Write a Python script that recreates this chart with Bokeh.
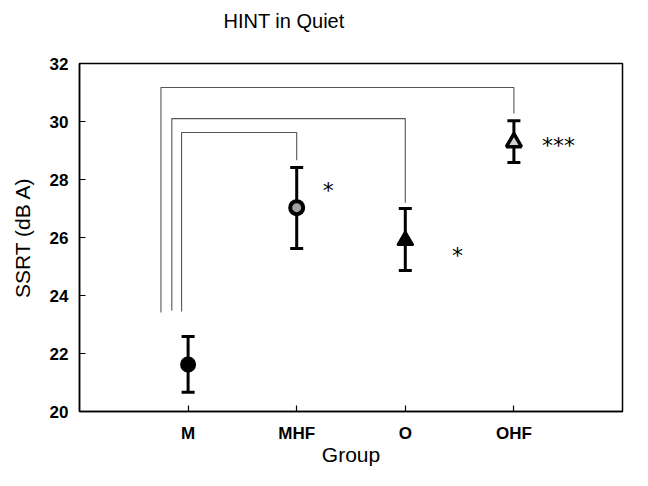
import numpy as np
from bokeh.plotting import figure
from bokeh.models import FixedTicker, Range1d, ColumnDataSource, Title
from bokeh.core.properties import value
from bokeh.embed import file_html
from bokeh.resources import INLINE

# ---- data ----
groups = ["M", "MHF", "O", "OHF"]
means = [21.62, 27.03, 25.90, 29.28]
upper = [22.59, 28.41, 27.00, 30.03]
lower = [20.66, 25.62, 24.86, 28.59]
marker_types = ["circle", "circle", "triangle", "triangle"]
marker_fills = ["black", "#a0a0a0", "black", "#d0d0d0"]
marker_sizes = [14, 13, 16, 15]
marker_lines = [2, 4, 2, 3.5]

# significance vs M
sig_targets = ["MHF", "O", "OHF"]
sig_text = ["*", "*", "***"]
sig_text_x = [2.29, 3.48, 4.41]
sig_text_y = [27.70, 25.45, 29.24]
bracket_left_x = [0.94, 0.85, 0.75]
bracket_top = [29.62, 30.10, 31.17]
bracket_bottom = [23.45, 23.48, 23.41]
bracket_end = [28.66, 27.20, 30.28]

y_ticks = [20, 22, 24, 26, 28, 30, 32]

FONT = "Liberation Sans"

x = np.arange(1, len(groups) + 1)
xpos = dict(zip(groups, x))

p = figure(width=648, height=486, output_backend="svg", toolbar_location=None,
           x_range=Range1d(0, 5), y_range=Range1d(20, 32),
           min_border_left=79, min_border_right=26, min_border_top=63, min_border_bottom=75)

p.background_fill_color = "white"
p.border_fill_color = "white"
p.grid.visible = False
p.outline_line_color = "black"
p.outline_line_width = 1.5

# spacer panel between frame and title
p.add_layout(Title(text=" ", text_font_size="1px", standoff=29), "above")

# title
p.title.text = "HINT in Quiet"
p.title.text_font = FONT
p.title.text_font_size = "20px"
p.title.text_font_style = "normal"
p.title.text_color = "black"
p.title.align = "left"
p.title.offset = 144
p.title.standoff = 0

# axes
p.xaxis.ticker = FixedTicker(ticks=list(x))
p.xaxis.major_label_overrides = {int(v): g for v, g in zip(x, groups)}
p.yaxis.ticker = FixedTicker(ticks=y_ticks)
for ax in (p.xaxis[0], p.yaxis[0]):
    ax.axis_line_color = "black"
    ax.axis_line_width = 1.5
    ax.major_tick_in = 6
    ax.major_tick_out = 0
    ax.minor_tick_in = 0
    ax.minor_tick_out = 0
    ax.major_tick_line_color = "black"
    ax.major_tick_line_width = 1.2
    ax.major_label_text_font = FONT
    ax.major_label_text_font_size = "17px"
    ax.major_label_text_font_style = "bold"
    ax.major_label_text_color = "black"
    ax.axis_label_text_font = FONT
    ax.axis_label_text_font_size = "21px"
    ax.axis_label_text_font_style = "normal"
    ax.axis_label_text_color = "black"

p.xaxis.axis_label = "Group"
p.xaxis.major_label_standoff = 12
p.xaxis.axis_label_standoff = -3
p.yaxis.axis_label = "SSRT (dB A)"
p.yaxis.major_label_standoff = 11
p.yaxis.axis_label_standoff = 13

# brackets
bxs, bys = [], []
for t, lx, top, bot, end in zip(sig_targets, bracket_left_x, bracket_top, bracket_bottom, bracket_end):
    tx = xpos[t]
    bxs.append([lx, lx, tx, tx])
    bys.append([bot, top, top, end])
p.multi_line(bxs, bys, line_color="#555555", line_width=1.1)

# error bars
p.segment(x0=x, y0=lower, x1=x, y1=upper, line_color="black", line_width=3)
p.scatter(np.concatenate([x, x]), lower + upper, marker="dash", size=13,
          line_color="black", line_width=3)

# markers
src = ColumnDataSource(dict(x=x, y=means, m=marker_types, f=marker_fills,
                            s=marker_sizes, lw=marker_lines))
p.scatter("x", "y", source=src, marker="m", fill_color="f", line_color="black",
          line_width="lw", size="s")

# significance labels
p.text(sig_text_x, sig_text_y, text=sig_text, text_font=value("DejaVu Sans"),
       text_font_size="22px", text_align="center", text_baseline="alphabetic",
       y_offset=2, text_color="black")

open("out.html", "w").write(file_html(p, INLINE))
